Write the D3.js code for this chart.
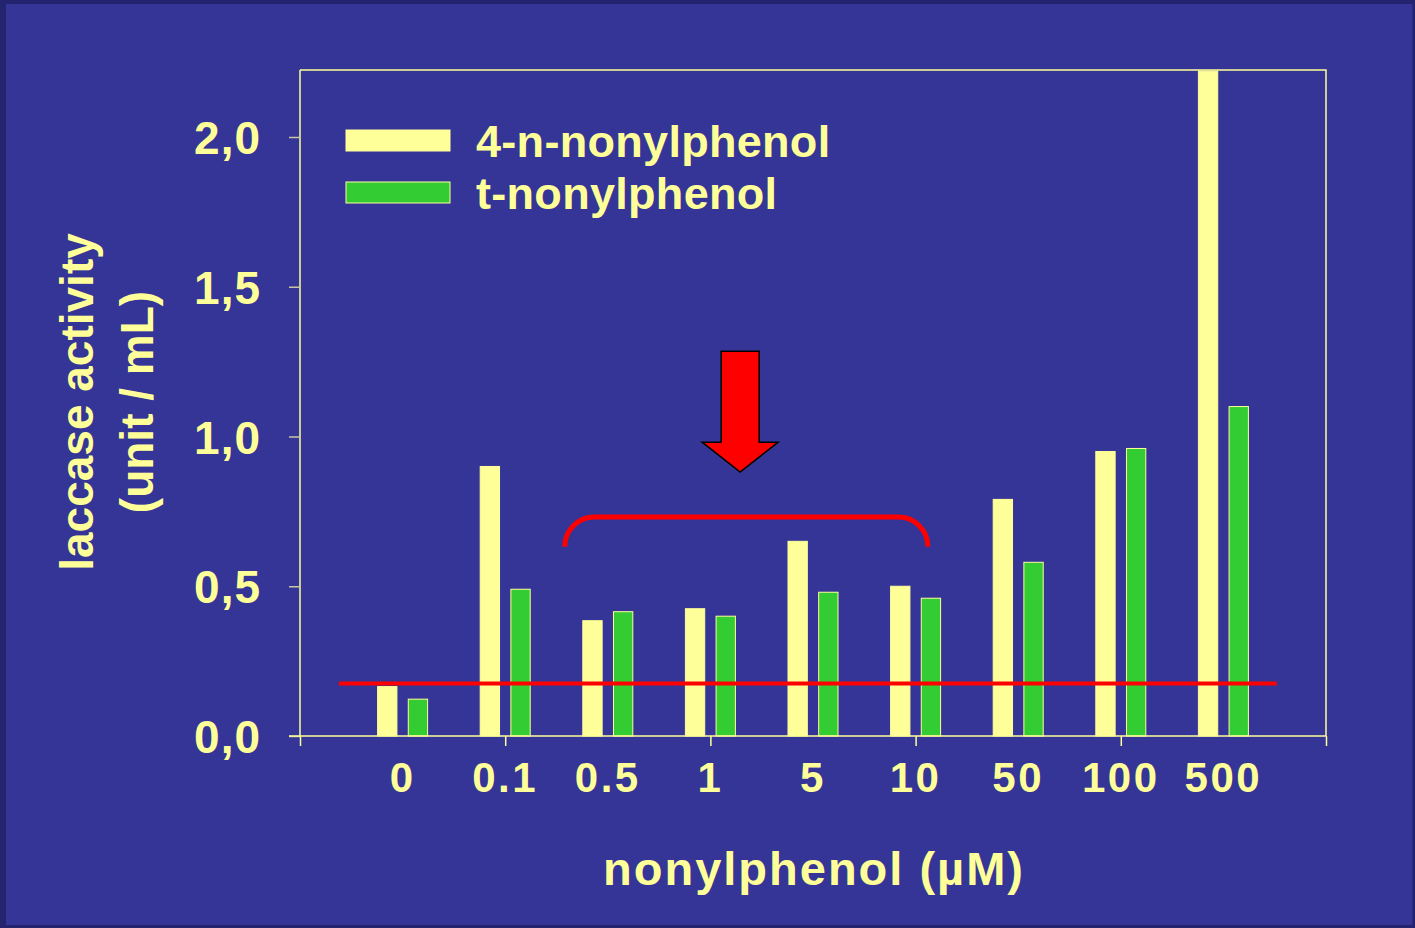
<!DOCTYPE html>
<html>
<head>
<meta charset="utf-8">
<script src="https://cdn.jsdelivr.net/npm/d3@7"></script>
<style>
  body { margin: 0; background: #232370; }
  svg { display: block; }
  text { font-family: "Liberation Sans", Arial, sans-serif; font-weight: bold; fill: #ffff99; }
</style>
</head>
<body>
<div id="chart"></div>
<script>
// Data
const concentrations = ['0', '0.1', '0.5', '1', '5', '10', '50', '100', '500'];
const seriesNames = ['4-n-nonylphenol', 't-nonylphenol'];
const nNonylphenol = [0.165, 0.90, 0.385, 0.425, 0.65, 0.50, 0.79, 0.95, 2.22];
const tNonylphenol = [0.123, 0.49, 0.415, 0.40, 0.48, 0.46, 0.58, 0.96, 1.10];
const yTicks = [0, 0.5, 1.0, 1.5, 2.0];
const xTicks = [0, 2, 4, 6, 8, 10];

// annotations (in x-slot / value units)
const controlLevel = 0.175;
const controlSpan = [0.38, 9.52];
const bracketSpan = [2.58, 6.12];
const bracketLevels = [0.632, 0.731];
const arrowX = 4.29;
const arrowLevels = [1.285, 0.881];

const colors = ['#ffff99', '#33cc33'];

const W = 1415, H = 928;
const margin = {top: 70, right: 89, bottom: 192, left: 300};
const width = 1326 - margin.left;
const height = 736 - margin.top;

const svg = d3.select('#chart').append('svg')
  .attr('width', W).attr('height', H);

svg.append('rect').attr('width', W).attr('height', H).attr('fill', '#232370');
svg.append('rect').attr('x', 6).attr('y', 4).attr('width', W - 8.5).attr('height', H - 7)
  .attr('fill', '#353597');

const g = svg.append('g').attr('transform', 'translate(' + margin.left + ',' + margin.top + ')');

const x = d3.scaleLinear().domain([0, 10]).range([0, width]);
const y = d3.scaleLinear().domain([0, 2.2237]).range([height, 0]);
const inner = d3.scaleBand().domain(seriesNames).range([-25, 25]).paddingInner(0.37);

// frame top & right
g.append('path')
  .attr('d', 'M0,0H' + width + 'V' + height)
  .attr('fill', 'none').attr('stroke', '#ffff99').attr('stroke-width', 1.5);

g.append('clipPath').attr('id', 'plotclip')
  .append('rect').attr('width', width).attr('height', height + 1);

// bars
const rows = concentrations.map((c, i) => ({c: c, i: i, vals: [nNonylphenol[i], tNonylphenol[i]]}));
const bars = g.append('g').attr('clip-path', 'url(#plotclip)');
bars.selectAll('g.grp')
  .data(rows)
  .enter()
  .append('g')
  .attr('class', 'grp')
  .attr('transform', d => 'translate(' + x(d.i + 1) + ',0)')
  .selectAll('rect')
  .data(d => d.vals.map((v, k) => ({v: v, k: k})))
  .enter()
  .append('rect')
  .attr('x', d => inner(seriesNames[d.k]))
  .attr('width', inner.bandwidth())
  .attr('y', d => y(d.v))
  .attr('height', d => height - y(d.v))
  .attr('fill', d => colors[d.k])
  .attr('stroke', '#ffff99')
  .attr('stroke-width', 1);

// axes
const yAxis = g.append('g')
  .call(d3.axisLeft(y).tickValues(yTicks).tickSize(11).tickPadding(28)
    .tickFormat(d => d3.format('.1f')(d).replace('.', ',')));
yAxis.select('.domain').attr('stroke', '#ffff99').attr('stroke-width', 1.5)
  .attr('d', 'M0,0V' + height);
yAxis.selectAll('.tick line').attr('stroke', '#c8c8a0').attr('stroke-width', 1.5);
yAxis.selectAll('.tick text').attr('font-size', 46).attr('dy', '0.36em')
  .attr('letter-spacing', 1)
  .attr('fill', '#ffff99').attr('font-family', '"Liberation Sans", Arial, sans-serif');

const xAxis = g.append('g').attr('transform', 'translate(0,' + height + ')')
  .call(d3.axisBottom(x).tickValues(xTicks).tickSize(10).tickFormat(''));
xAxis.select('.domain').attr('stroke', '#ffff99').attr('stroke-width', 1.5)
  .attr('d', 'M-11,0H' + width);
xAxis.selectAll('.tick line').attr('stroke', '#ffff99').attr('stroke-width', 1.5);

g.selectAll('text.xlab')
  .data(concentrations)
  .enter()
  .append('text')
  .attr('class', 'xlab')
  .attr('x', (d, i) => x(i + 1))
  .attr('y', height + 56)
  .attr('text-anchor', 'middle')
  .attr('font-size', 42)
  .attr('letter-spacing', 2.5)
  .text(d => d);

// axis titles
svg.append('text')
  .attr('x', 814).attr('y', 885)
  .attr('text-anchor', 'middle')
  .attr('font-size', 47)
  .attr('letter-spacing', 2)
  .text('nonylphenol (µM)');

svg.append('text')
  .attr('transform', 'translate(93,402) rotate(-90)')
  .attr('text-anchor', 'middle')
  .attr('font-size', 46)
  .text('laccase activity');
svg.append('text')
  .attr('transform', 'translate(153,402) rotate(-90)')
  .attr('text-anchor', 'middle')
  .attr('font-size', 46)
  .text('(unit / mL)');

// control level line
g.append('line')
  .attr('x1', x(controlSpan[0])).attr('x2', x(controlSpan[1]))
  .attr('y1', y(controlLevel)).attr('y2', y(controlLevel))
  .attr('stroke', '#ff0000').attr('stroke-width', 4);

// bracket
const bx0 = x(bracketSpan[0]), bx1 = x(bracketSpan[1]);
const by0 = y(bracketLevels[0]), by1 = y(bracketLevels[1]);
const r = by0 - by1;
g.append('path')
  .attr('d', 'M' + bx0 + ',' + by0 +
    'A' + r + ',' + r + ' 0 0 1 ' + (bx0 + r) + ',' + by1 +
    'H' + (bx1 - r) +
    'A' + r + ',' + r + ' 0 0 1 ' + bx1 + ',' + by0)
  .attr('fill', 'none').attr('stroke', '#ff0000').attr('stroke-width', 5);

// arrow
const ax = x(arrowX), aTop = y(arrowLevels[0]), aTip = y(arrowLevels[1]);
const shaftW = 19, headW = 38, headH = 30;
g.append('path')
  .attr('d', 'M' + (ax - shaftW) + ',' + aTop +
    'H' + (ax + shaftW) +
    'V' + (aTip - headH) +
    'H' + (ax + headW) +
    'L' + ax + ',' + aTip +
    'L' + (ax - headW) + ',' + (aTip - headH) +
    'H' + (ax - shaftW) + 'Z')
  .attr('fill', '#ff0000').attr('stroke', '#000').attr('stroke-width', 1.5)
  .attr('stroke-linejoin', 'miter');

// legend
const legend = svg.append('g').attr('transform', 'translate(346,130)');
const lg = legend.selectAll('g')
  .data(seriesNames)
  .enter()
  .append('g')
  .attr('transform', (d, i) => 'translate(0,' + i * 52 + ')');
lg.append('rect')
  .attr('width', 104).attr('height', 21)
  .attr('fill', (d, i) => colors[i])
  .attr('stroke', '#ffff99').attr('stroke-width', 1);
lg.append('text')
  .attr('x', 130).attr('y', 27)
  .attr('font-size', 45)
  .attr('letter-spacing', 0.3)
  .text(d => d);
</script>
</body>
</html>
